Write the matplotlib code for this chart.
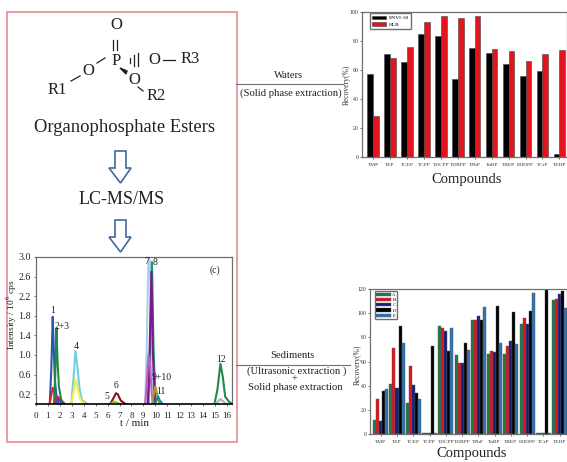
from matplotlib import pyplot as plt
from matplotlib.patches import Polygon, Rectangle
import numpy as np

plt.rcParams['font.family'] = ['Liberation Serif', 'DejaVu Serif']
plt.rcParams['mathtext.fontset'] = 'stix'

W, H = 567, 462

# waters panel
names = ['TMP', 'TEP', 'TCEP', 'TCPP', 'TDCPP', 'TDBPP', 'TPhP', 'TnBP', 'TBEP', 'EHDPP', 'TCrP', 'TEHP']
envi = [57, 71, 65.5, 84.5, 83.5, 54, 75, 71.5, 64, 56, 59, 2]
hlb = [28.5, 68, 76, 93, 97, 96, 97.5, 74.5, 73, 66.5, 71, 74]

# sediments panel
sed_a = [11.5, 41, 26, 0.5, 89, 65, 94.5, 66.5, 66, 91, 1, 111]
sed_b = [29, 71, 56.5, 0.5, 88, 58.5, 94, 68.5, 73, 96, 1, 112]
sed_c = [10.5, 38, 40.5, 0.5, 85.5, 58.5, 97.5, 67.5, 77, 91, 1, 115.5]
sed_d = [36, 89, 34, 73, 68.5, 75, 94, 106, 101, 101.5, 120, 118]
sed_e = [37.5, 75, 29, 0.5, 87.5, 69.5, 105, 75, 74.5, 117, 1, 104]
sed_labels = ['A', 'B', 'C', 'D', 'E']
sed_colors = ['#1f7a4d', '#e3141c', '#14237a', '#000000', '#2f74b5']

# chromatogram peaks, (time, intensity)
peak_t1 = [1.15, 1.28, 1.4, 1.48, 1.58, 1.73, 1.93]
peak_i1 = [0, 0.7, 1.78, 1.2, 0.5, 0.12, 0]
peak_t1b = [1.15, 1.3, 1.4, 1.5, 1.65, 1.85]
peak_i1b = [0, 0.2, 0.33, 0.28, 0.1, 0]
peak_t2 = [1.5, 1.6, 1.72, 1.8, 1.92, 2.12, 2.42]
peak_i2 = [0, 0.5, 1.55, 0.9, 0.35, 0.08, 0]
peak_t3 = [1.5, 1.7, 1.85, 2.03, 2.33]
peak_i3 = [0, 0.1, 0.15, 0.08, 0]
peak_t3b = [1.6, 1.75, 1.92, 2.07, 2.22]
peak_i3b = [0, 0.08, 0.1, 0.04, 0]
peak_t4 = [2.95, 3.15, 3.3, 3.45, 3.65, 3.85, 4.3]
peak_i4 = [0, 0.55, 1.08, 0.8, 0.3, 0.08, 0]
peak_t4b = [2.95, 3.15, 3.3, 3.45, 3.65, 3.85, 4.15]
peak_i4b = [0, 0.25, 0.5, 0.38, 0.14, 0.04, 0]
peak_t5 = [6.2, 6.4, 6.55, 6.75, 7.0]
peak_i5 = [0, 0.03, 0.05, 0.03, 0]
peak_t6 = [6.2, 6.45, 6.7, 6.85, 7.1, 7.5]
peak_i6 = [0, 0.1, 0.22, 0.2, 0.07, 0]
peak_t7 = [9.15, 9.3, 9.42, 9.55, 9.7, 9.9]
peak_i7 = [0, 1.4, 3.0, 2.9, 0.8, 0]
peak_t7b = [9.15, 9.3, 9.42, 9.55, 9.7, 9.8]
peak_i7b = [0, 0.5, 1.0, 0.8, 0.2, 0]
peak_t8 = [9.42, 9.57, 9.72, 9.84, 10.02]
peak_i8 = [0, 1.3, 2.9, 1.2, 0]
peak_t8b = [9.37, 9.52, 9.67, 9.8, 9.97]
peak_i8b = [0, 1.1, 2.7, 1.0, 0]
peak_t9 = [9.72, 9.87, 10.0, 10.13, 10.33]
peak_i9 = [0, 0.2, 0.36, 0.22, 0]
peak_t11 = [9.9, 10.1, 10.22, 10.35, 10.6]
peak_i11 = [0, 0.08, 0.16, 0.08, 0]
peak_t12 = [14.95, 15.2, 15.45, 15.65, 15.85, 16.15, 16.45]
peak_i12 = [0, 0.3, 0.82, 0.55, 0.15, 0.05, 0]
peak_t12b = [14.95, 15.25, 15.45, 15.7, 15.95]
peak_i12b = [0, 0.05, 0.1, 0.05, 0]

GREY = '#707070'
BLUE = '#3f6a9e'
PINK = '#e8808a'
INK = '#222222'


def px_axes(left, top, right, bottom):
    return fig.add_axes([left / W, 1 - bottom / H, (right - left) / W, (bottom - top) / H])


def style_bars(ax, ymax, step):
    ax.set_xlim(-0.66, 11.45)
    ax.set_ylim(0, ymax)
    ax.set_yticks(range(0, ymax + 1, step))
    ax.set_xticks(range(12))
    ax.set_xticklabels(names)
    ax.tick_params(axis='y', labelsize=4.2, length=1.5, width=0.5, pad=1, color='#333333', labelcolor='#333333')
    ax.tick_params(axis='x', labelsize=3.9, length=1.5, width=0.5, pad=3, color='#333333', labelcolor='#333333')
    for s in ax.spines.values():
        s.set_color(GREY)
        s.set_linewidth(0.9)


fig = plt.figure(figsize=(W / 100, H / 100), dpi=100)

# top right bars
ax1 = px_axes(362, 12, 567, 157)
x = np.arange(12)
ax1.bar(x - 0.17, envi, 0.34, color='black', edgecolor='#444444', linewidth=0.4, label='ENVI-18')
ax1.bar(x + 0.17, hlb, 0.34, color='#e3141c', edgecolor='#444444', linewidth=0.4, label='HLB')
style_bars(ax1, 100, 20)
ax1.legend(loc='upper left', bbox_to_anchor=(0.04, 0.99), fontsize=3.9, fancybox=False, edgecolor=GREY,
           framealpha=1, borderaxespad=0, handlelength=2.6, handletextpad=0.5, borderpad=0.4, labelspacing=0.35)

# bottom right bars
ax2 = px_axes(370, 289, 567, 434)
series = [sed_a, sed_b, sed_c, sed_d, sed_e]
for i in range(5):
    ax2.bar(x + (i - 2) * 0.185, series[i], 0.185, color=sed_colors[i], edgecolor='#555555',
            linewidth=0.3, label=sed_labels[i])
style_bars(ax2, 120, 20)
ax2.legend(loc='upper left', bbox_to_anchor=(0.025, 0.985), fontsize=3.4, fancybox=False, edgecolor=GREY,
           framealpha=1, borderaxespad=0, handlelength=3, handletextpad=0.4, borderpad=0.3, labelspacing=0.2)

# chromatogram
ax3 = px_axes(36, 257, 232, 404)
peaks = [
    (peak_t1, peak_i1, '#2a55b0'), (peak_t1b, peak_i1b, '#e8262a'),
    (peak_t2, peak_i2, '#1f8a3c'), (peak_t3, peak_i3, '#e8262a'), (peak_t3b, peak_i3b, '#2a55b0'),
    (peak_t4, peak_i4, '#6fd0e0'), (peak_t4b, peak_i4b, '#f2ee4a'),
    (peak_t6, peak_i6, '#8a1020'), (peak_t5, peak_i5, '#8fc020'),
    (peak_t7, peak_i7, '#a8d0ee'), (peak_t8, peak_i8, '#1f9a70'),
    (peak_t8b, peak_i8b, '#7a1a8a'), (peak_t7b, peak_i7b, '#c060c0'),
    (peak_t9, peak_i9, '#a89a30'), (peak_t11, peak_i11, '#108a9a'),
    (peak_t12, peak_i12, '#1f8a4a'), (peak_t12b, peak_i12b, '#b0b0b0'),
]
for t, v, c in peaks:
    ax3.plot(t, v, color=c, linewidth=1.5, solid_joinstyle='round')
ax3.set_xlim(0, 16.42)
ax3.set_ylim(0, 3.0)
ax3.set_xticks(range(0, 17))
ax3.set_yticks([0.2, 0.6, 1.0, 1.4, 1.8, 2.2, 2.6, 3.0])
ax3.set_yticklabels(['0.2', '0.6', '1.0', '1.4', '1.8', '2.2', '2.6', '3.0'])
ax3.tick_params(axis='y', labelsize=7.2, length=1.5, width=0.5, pad=2, color='#333333', labelcolor=INK)
ax3.tick_params(axis='x', labelsize=6.5, length=1.5, width=0.5, pad=4, color='#333333', labelcolor=INK)
for s in ax3.spines.values():
    s.set_color(GREY)
    s.set_linewidth(0.9)
ax3.spines['bottom'].set_color('black')
ax3.spines['bottom'].set_linewidth(1.2)
for lab, tx, ty in [('1', 1.4, 1.91), ('2+3', 2.18, 1.58), ('4', 3.35, 1.18), ('5', 5.95, 0.145),
                    ('6', 6.7, 0.38), ('7', 9.25, 2.9), ('8', 10.0, 2.89), ('9+10', 10.55, 0.54),
                    ('11', 10.47, 0.25), ('12', 15.53, 0.91), ('(c)', 15.03, 2.73)]:
    ax3.text(tx, ty, lab, fontsize=7, ha='center', va='center', color=INK)

# overlay in pixel coordinates for the drawn diagram
ov = fig.add_axes([0, 0, 1, 1], zorder=-1)
ov.set_xlim(0, W)
ov.set_ylim(H, 0)
ov.axis('off')
ov.add_patch(Rectangle((7, 12), 229.5, 429.5, fill=False, edgecolor=PINK, linewidth=1.1))
ov.plot([236, 343], [84, 84], color=GREY, linewidth=0.8)
ov.plot([236, 350], [365, 365], color=GREY, linewidth=0.8)


def arrow(top):
    pts = [(115, top), (126, top), (126, top + 17), (131, top + 17), (120.5, top + 32),
           (109, top + 17), (115, top + 17)]
    ov.add_patch(Polygon(pts, closed=True, fill=False, edgecolor=BLUE, linewidth=1.2))


arrow(151)
arrow(220)

# molecule
for lab, tx, ty in [('O', 116, 25), ('P', 116, 61), ('O', 88, 71), ('R1', 57, 90),
                    ('O', 154, 60), ('R3', 190, 59), ('O', 134, 80), ('R2', 156, 96)]:
    ov.text(tx, ty, lab, fontsize=12, ha='center', va='center', color=INK)
for x0, y0, x1, y1 in [(113, 40, 113, 50), (117, 40, 117, 50), (71, 81, 80, 76), (97, 63, 105, 58),
                       (130, 58, 130, 63), (134, 55, 134, 66), (138, 53, 138, 66), (163, 60, 175, 60),
                       (138, 87, 143, 91)]:
    ov.plot([x0, x1], [y0, y1], color=INK, linewidth=0.9)
ov.add_patch(Polygon([(120, 68), (127, 71), (126, 74)], closed=True, color=INK))

ov.text(124.5, 127, 'Organophosphate Esters', fontsize=13.4, ha='center', va='center', color=INK)
ov.text(121.5, 199, 'LC-MS/MS', fontsize=13, ha='center', va='center', color=INK)

ov.text(289, 76, 'Waters', fontsize=7.7, ha='center', va='center', color=INK)
ov.text(291, 93, '(Solid phase extraction)', fontsize=7.7, ha='center', va='center', color=INK)
ov.text(292, 355, 'Sediments', fontsize=7.7, ha='center', va='center', color=INK)
ov.text(297, 371, '(Ultrasonic extraction )', fontsize=7.7, ha='center', va='center', color=INK)
ov.text(294, 379, '+', fontsize=7.5, ha='center', va='center', color=INK)
ov.text(295, 387, 'Solid phase extraction', fontsize=7.7, ha='center', va='center', color=INK)
ov.text(467, 180, 'Compounds', fontsize=10.5, ha='center', va='center', color=INK)
ov.text(472, 454, 'Compounds', fontsize=10.5, ha='center', va='center', color=INK)

ov.text(347, 85, 'Recovery(%)', fontsize=5.5, rotation=90, ha='center', va='center', color='#333333')
ov.text(358, 365, 'Recovery(%)', fontsize=5.5, rotation=90, ha='center', va='center', color='#333333')
ov.text(12, 315, 'Intensity / 10$^6$ cps', fontsize=6.8, rotation=90, ha='center', va='center', color=INK)
ov.text(135, 423, 't / min', fontsize=8, ha='center', va='center', color=INK)

fig.savefig('out.png', dpi=100)
